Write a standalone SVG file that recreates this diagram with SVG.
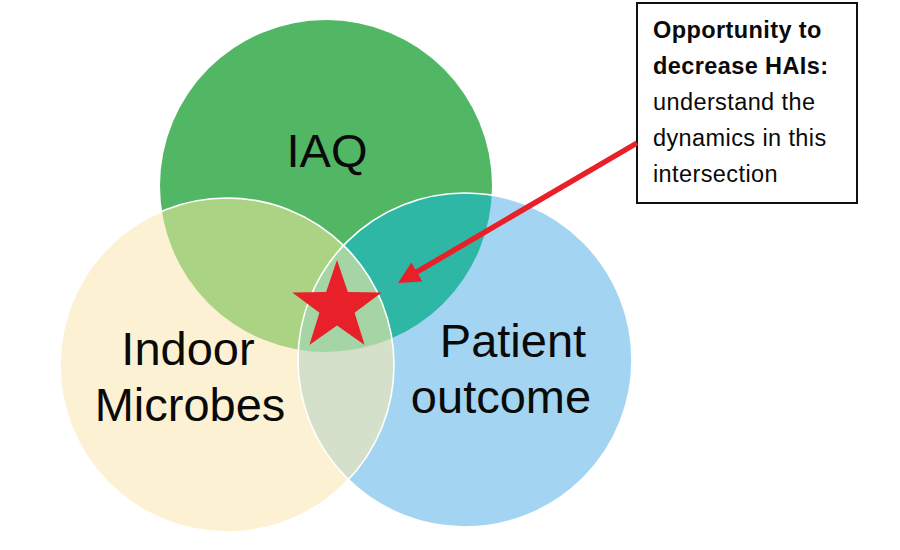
<svg xmlns="http://www.w3.org/2000/svg" width="900" height="550" viewBox="0 0 900 550">
<style>
.lbl{font-family:"Liberation Sans",Arial,sans-serif;font-size:47px;fill:#0a0a0a;text-anchor:middle}
.box{font-family:"Liberation Sans",Arial,sans-serif;font-size:23.5px;fill:#0a0a0a;letter-spacing:0.4px}
.bold{font-weight:bold}
.outline{fill:none;stroke:#ffffff;stroke-width:1.6}
</style>
<defs>
<clipPath id="cG"><circle cx="326" cy="186" r="166"/></clipPath>
<clipPath id="cY"><circle cx="227" cy="365" r="167"/></clipPath>
<clipPath id="cYG" clip-path="url(#cG)"><circle cx="227" cy="365" r="167"/></clipPath>
<marker id="ah" markerUnits="userSpaceOnUse" markerWidth="22" markerHeight="22" refX="6" refY="11" orient="auto">
<path d="M0,0 L22,11 L0,22 z" fill="#e8202a"/>
</marker>
</defs>
<rect width="900" height="550" fill="#ffffff"/>
<g id="node-iaq">
<circle cx="326" cy="186" r="166" fill="#52b765"/>
<text class="lbl" x="327" y="167">IAQ</text>
</g>
<g id="node-microbes">
<circle cx="227" cy="365" r="167" fill="#fdf1d3"/>
<circle cx="227" cy="365" r="167" fill="#abd384" clip-path="url(#cG)"/>
<text class="lbl" x="188" y="365">Indoor</text>
<text class="lbl" x="190" y="421">Microbes</text>
</g>
<g id="node-patient">
<circle cx="465" cy="360" r="167" fill="#a3d5f2"/>
<circle cx="465" cy="360" r="167" fill="#2fb7a6" clip-path="url(#cG)"/>
<circle cx="465" cy="360" r="167" fill="#d4e0c9" clip-path="url(#cY)"/>
<circle cx="465" cy="360" r="167" fill="#a6d5a5" clip-path="url(#cYG)"/>
<text class="lbl" x="513" y="357">Patient</text>
<text class="lbl" x="501" y="413">outcome</text>
</g>
<g id="outlines">
<circle class="outline" cx="227" cy="365" r="167"/>
<circle class="outline" cx="465" cy="360" r="167"/>
</g>
<g id="star">
<polygon fill="#e8202a" points="337,260 347.87,292.03 381.7,292.48 354.59,312.72 364.63,345.02 337,325.5 309.37,345.02 319.41,312.72 292.3,292.48 326.13,292.03"/>
</g>
<g id="node-note">
<rect x="637" y="3" width="220" height="200" fill="#ffffff" stroke="#111111" stroke-width="2"/>
<text class="box bold" x="653" y="38">Opportunity to</text>
<text class="box bold" x="653" y="74">decrease HAIs:</text>
<text class="box" x="653" y="110">understand the</text>
<text class="box" x="653" y="146">dynamics in this</text>
<text class="box" x="653" y="182">intersection</text>
</g>
<g id="connectors">
<line x1="637" y1="143" x2="411.8" y2="274.9" stroke="#e8202a" stroke-width="5.5" marker-end="url(#ah)"/>
</g>
</svg>
